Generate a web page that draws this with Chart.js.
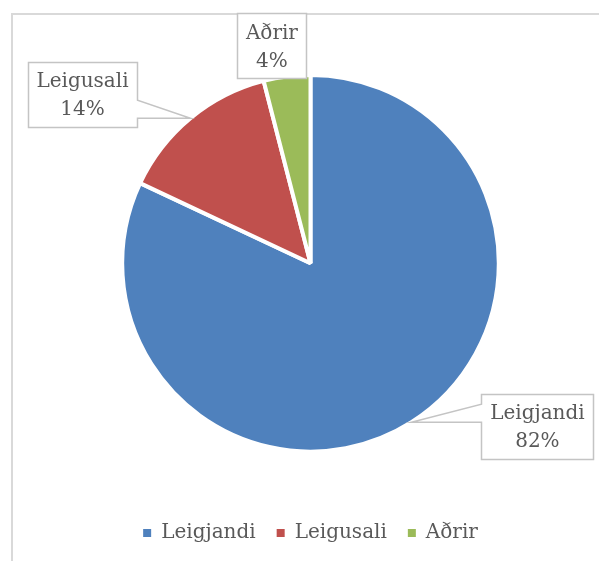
<!DOCTYPE html>
<html>
<head>
<meta charset="utf-8">
<script src="https://cdn.jsdelivr.net/npm/chart.js@4"></script>
<style>
  html, body { margin: 0; padding: 0; background: #fff; }
  #wrap { position: relative; width: 599px; height: 561px; }
</style>
</head>
<body>
<div id="wrap"><canvas id="pie" width="599" height="561"></canvas></div>
<script>
// ===== data =====
const labels = ["Leigjandi", "Leigusali", "Aðrir"];
const shares = [82, 14, 4];
const colors = ["#4F81BD", "#C0504D", "#9BBB59"];

const textColor = "#595959";
const serif = "'DejaVu Serif', serif";

// where each callout box sits, relative to the point on the slice edge
const calloutOffset = [[126, 4], [-108, -24], [-15, -31]];

const framePlugin = {
  id: "frame",
  beforeDraw(chart) {
    const c = chart.ctx;
    c.save();
    c.strokeStyle = "#d9d9d9";
    c.lineWidth = 2;
    c.beginPath();
    c.moveTo(12, chart.height);
    c.lineTo(12, 14);
    c.lineTo(chart.width, 14);
    c.stroke();
    c.restore();
  }
};

const calloutPlugin = {
  id: "callouts",
  afterDatasetsDraw(chart) {
    const c = chart.ctx;
    const meta = chart.getDatasetMeta(0);
    const vals = chart.data.datasets[0].data;
    const total = vals.reduce((a, b) => a + b, 0);
    c.save();
    c.font = "20px " + serif;
    meta.data.forEach((arc, i) => {
      const p = arc.getProps(["x", "y", "startAngle", "endAngle", "outerRadius"], true);
      const mid = (p.startAngle + p.endAngle) / 2;
      const tx = p.x + Math.cos(mid) * p.outerRadius;
      const ty = p.y + Math.sin(mid) * p.outerRadius;
      const lines = [chart.data.labels[i], Math.round(vals[i] / total * 100) + "%"];
      const tw = Math.max(...lines.map(s => c.measureText(s).width));
      const w = Math.round(tw + 17), h = 65;
      const cx = tx + calloutOffset[i][0], cy = ty + calloutOffset[i][1];
      const l = Math.round(cx - w / 2) + 0.5, t = Math.round(cy - h / 2) + 0.5;
      const r = l + w, b = t + h;
      const baseTop = Math.max(t + 4, ty - 18), baseBot = Math.min(b - 4, ty);

      const pts = [[l, t], [r, t]];
      if (tx > r + 4) pts.push([r, baseTop], [tx, ty], [r, baseBot]);
      pts.push([r, b], [l, b]);
      if (tx < l - 4) pts.push([l, baseBot], [tx, ty], [l, baseTop]);

      c.beginPath();
      pts.forEach((pt, k) => k ? c.lineTo(pt[0], pt[1]) : c.moveTo(pt[0], pt[1]));
      c.closePath();
      c.fillStyle = "#fff";
      c.fill();
      c.strokeStyle = "#c4c4c4";
      c.lineWidth = 1.5;
      c.stroke();

      c.fillStyle = textColor;
      c.textAlign = "center";
      c.textBaseline = "middle";
      c.fillText(lines[0], cx, cy - 12);
      c.fillText(lines[1], cx, cy + 16);
    });
    c.restore();
  }
};

const pieLegendLabels = Chart.overrides.pie.plugins.legend.labels.generateLabels;

new Chart(document.getElementById("pie"), {
  type: "pie",
  data: {
    labels: labels,
    datasets: [{
      data: shares,
      backgroundColor: colors,
      borderColor: "#fff",
      borderWidth: 4
    }]
  },
  options: {
    responsive: false,
    animation: false,
    layout: { padding: { top: 73, left: 22, right: 0, bottom: 8 } },
    plugins: {
      tooltip: { enabled: false },
      legend: {
        position: "bottom",
        title: { display: true, text: " ", font: { size: 12 }, padding: { top: 0, bottom: 34 } },
        labels: {
          color: textColor,
          font: { family: serif, size: 20 },
          boxWidth: 8, boxHeight: 8,
          padding: 21,
          generateLabels: chart => pieLegendLabels(chart).map(it => ({ ...it, lineWidth: 0 }))
        }
      }
    }
  },
  plugins: [framePlugin, calloutPlugin]
});
</script>
</body>
</html>
